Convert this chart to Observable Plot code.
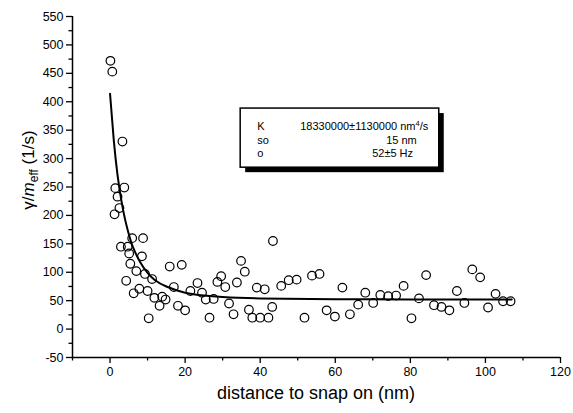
<!DOCTYPE html>
<html><head><meta charset="utf-8">
<script src="https://cdn.jsdelivr.net/npm/d3@7"></script>
<script src="https://cdn.jsdelivr.net/npm/@observablehq/plot@0.6"></script>
<style>body{margin:0;background:#fff;} svg{display:block;}</style>
</head><body><div id="chart"></div>
<script>
// measured points (distance nm, gamma/m_eff 1/s)
const distance = [0.1,0.6,3.3,1.4,3.8,2.0,2.5,1.2,5.9,8.8,2.9,4.7,5.1,8.5,5.4,7.0,9.3,11.2,4.3,7.8,6.3,10.0,10.3,11.8,13.9,14.8,13.2,15.9,19.1,17.0,18.1,20.0,21.4,
 23.3,24.5,25.5,26.5,27.6,28.6,29.6,30.7,31.7,32.9,33.8,34.9,35.9,37.0,37.9,40.0,42.2,39.1,41.2,43.2,43.4,45.6,47.6,49.7,51.8,53.8,55.8,57.7,
 59.9,61.9,63.9,66.1,68.0,70.1,72.0,74.1,76.2,78.2,80.3,82.3,84.2,86.3,88.3,90.4,92.4,94.4,96.5,98.6,100.7,102.7,104.7,106.7];
const gamma = [472,453,330,248,249,233,213,202,160,160,145,145,133,128,115,102,97,88,85,71,63,67,19,55,57,52,41,110,113,74,41,33,67,
 81,64,52,20,53,83,93,74,45,26,82,120,101,34,20,20,20,73,70,39,155,76,86,87,20,94,97,33,
 22,73,26,43,64,46,60,58,59,76,19,54,95,42,39,33,67,46,105,91,38,62,49,49];
// fitted curve
const fitDistance = [0,1,2,3,4,5,6,8,10,12,15,20,25,30,40,60,80,107];
const fitGamma = [414,332,271,227,193,167,146,118,99,86,75,64,59,56.5,54,52.6,52.2,52.1];
// axes
const xTicks = [0,20,40,60,80,100,120];
const xMinor = [-10,10,30,50,70,90,110];
const yTicks = [-50,0,50,100,150,200,250,300,350,400,450,500,550];
const yMinor = [-25,25,75,125,175,225,275,325,375,425,475,525];
// legend box text
const legendNames = ["K","so","o"];
const legendValues = ["18330000±1130000 nm|4|/s","15 nm","52±5 Hz"];
const legendBox = {x1: 34.8, x2: 87.7, y1: 284, y2: 388};

const points = distance.map((d,i)=>({x:d, y:gamma[i]}));
const fit = fitDistance.map((d,i)=>({x:d, y:fitGamma[i]}));

const plot = Plot.plot({
  width: 573, height: 413,
  marginLeft: 72, marginRight: 13, marginTop: 16, marginBottom: 56,
  x: {domain: [-10,120]},
  y: {domain: [-50,550]},
  style: {fontFamily: "'Liberation Sans', Arial, sans-serif", fontSize: "12.5px", background: "#fff", color: "#000", overflow: "visible"},
  marks: [
    Plot.axisX({ticks: xTicks, tickSize: 6, tickPadding: 4, strokeWidth: 1.3, label: null, tickFormat: d => String(d)}),
    Plot.axisX({ticks: xMinor, tickSize: 3.5, strokeWidth: 1.3, label: null, tickFormat: () => ""}),
    Plot.axisY({ticks: yTicks, tickSize: 6, tickPadding: 3, strokeWidth: 1.3, label: null, tickFormat: d => String(d)}),
    Plot.axisY({ticks: yMinor, tickSize: 3.5, strokeWidth: 1.3, label: null, tickFormat: () => ""}),
    Plot.ruleX([-10], {strokeWidth: 1.5}),
    Plot.ruleY([-50], {strokeWidth: 1.5}),
    Plot.line(fit, {x: "x", y: "y", curve: "natural", stroke: "#000", strokeWidth: 2}),
    Plot.dot(points, {x: "x", y: "y", r: 4.3, stroke: "#000", strokeWidth: 1.2, fill: "#fff", fillOpacity: 0})
  ]
});
document.getElementById("chart").appendChild(plot);

const svg = d3.select(plot);
const sx = plot.scale("x"), sy = plot.scale("y");
const font = "'Liberation Sans', Arial, sans-serif";

// legend box
const bx1 = sx.apply(legendBox.x1), bx2 = sx.apply(legendBox.x2);
const by1 = sy.apply(legendBox.y2), by2 = sy.apply(legendBox.y1);
const g = svg.append("g").attr("font-family", font).attr("font-size", 11).attr("text-anchor", "start");
g.append("rect").attr("x", bx1+5).attr("y", by1+5).attr("width", bx2-bx1).attr("height", by2-by1).attr("fill", "#000");
g.append("rect").attr("x", bx1).attr("y", by1).attr("width", bx2-bx1).attr("height", by2-by1).attr("fill", "#fff").attr("stroke", "#000").attr("stroke-width", 1.5);
const valueOffsets = [60, 146, 132];
legendNames.forEach((n,i) => {
  const yy = by1 + 22 + i*13.5;
  g.append("text").attr("x", bx1+17).attr("y", yy).text(n);
  const t = g.append("text").attr("x", bx1+valueOffsets[i]).attr("y", yy);
  const parts = legendValues[i].split("|");
  parts.forEach((p,j) => {
    const ts = t.append("tspan").text(p);
    if (j === 1) ts.attr("font-size", 7.5).attr("dy", -4);
    if (j === 2) ts.attr("dy", 4);
  });
});

// axis titles
svg.append("text").attr("x", 316).attr("y", 399).attr("text-anchor", "middle")
  .attr("font-family", font).attr("font-size", 18).text("distance to snap on (nm)");
const yl = svg.append("text").attr("transform", "translate(34,170) rotate(-90)").attr("text-anchor", "middle")
  .attr("font-family", font).attr("font-size", 17);
yl.append("tspan").text("γ/");
yl.append("tspan").attr("font-style", "italic").text("m");
yl.append("tspan").attr("font-size", 12).attr("dy", 4).text("eff");
yl.append("tspan").attr("dy", -4).text(" (1/s)");
</script>
</body></html>
